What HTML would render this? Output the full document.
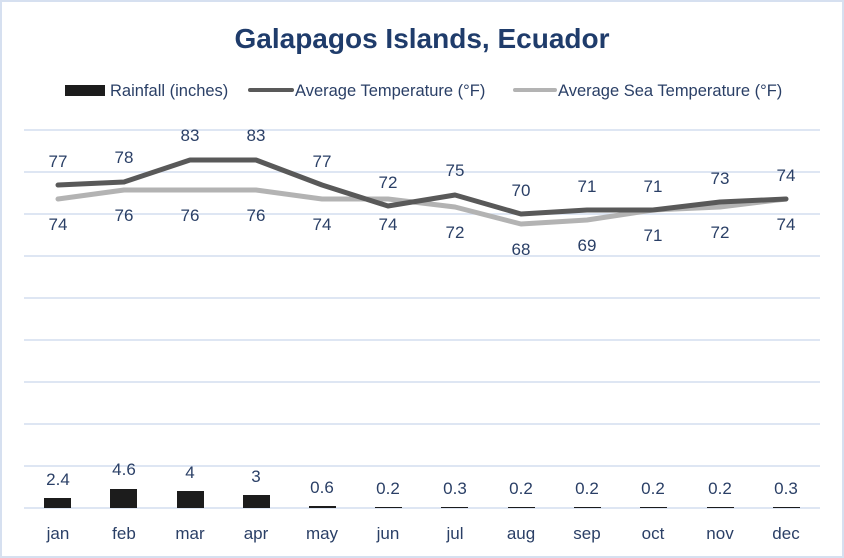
<!DOCTYPE html>
<html><head><style>body{margin:0;background:#fff}svg{display:block}</style></head><body>
<svg width="844" height="558" xmlns="http://www.w3.org/2000/svg" font-family="Liberation Sans, sans-serif">
<rect x="1" y="1" width="842" height="556" fill="#fff" stroke="#d6e0f0" stroke-width="2"/>
<text x="422" y="48" text-anchor="middle" font-size="28" font-weight="bold" fill="#1f3c6b">Galapagos Islands, Ecuador</text>
<g font-size="16.5" fill="#2a3f66">
<rect x="65" y="85" width="40" height="11" fill="#1c1c1c"/><text x="110" y="96">Rainfall (inches)</text>
<line x1="250" y1="90" x2="292" y2="90" stroke="#595959" stroke-width="4" stroke-linecap="round"/><text x="295" y="96">Average Temperature (°F)</text>
<line x1="515" y1="90" x2="555" y2="90" stroke="#b3b3b3" stroke-width="4" stroke-linecap="round"/><text x="558" y="96">Average Sea Temperature (°F)</text>
</g>
<g stroke="#d3deef" stroke-width="1.5">
<line x1="24" x2="820" y1="130" y2="130"/><line x1="24" x2="820" y1="172" y2="172"/><line x1="24" x2="820" y1="214" y2="214"/><line x1="24" x2="820" y1="256" y2="256"/><line x1="24" x2="820" y1="298" y2="298"/><line x1="24" x2="820" y1="340" y2="340"/><line x1="24" x2="820" y1="382" y2="382"/><line x1="24" x2="820" y1="424" y2="424"/><line x1="24" x2="820" y1="466" y2="466"/><line x1="24" x2="820" y1="508" y2="508"/>
</g>
<g fill="#1c1c1c">
<rect x="44" y="498" width="27" height="10"/><rect x="110" y="489" width="27" height="19"/><rect x="177" y="491" width="27" height="17"/><rect x="243" y="495" width="27" height="13"/><rect x="309" y="506" width="27" height="2"/><rect x="375" y="507" width="27" height="1"/><rect x="441" y="507" width="27" height="1"/><rect x="508" y="507" width="27" height="1"/><rect x="574" y="507" width="27" height="1"/><rect x="640" y="507" width="27" height="1"/><rect x="707" y="507" width="27" height="1"/><rect x="773" y="507" width="27" height="1"/>
</g>
<polyline fill="none" stroke="#b3b3b3" stroke-width="5" stroke-linejoin="round" stroke-linecap="round" points="58,199 124,190 190,190 256,190 322,199 388,199 455,207 521,224 587,220 653,210 720,207 786,199"/>
<polyline fill="none" stroke="#595959" stroke-width="5" stroke-linejoin="round" stroke-linecap="round" points="58,185 124,182 190,160 256,160 322,185 388,206 455,195 521,214 587,210 653,210 720,202 786,199"/>
<g font-size="17" fill="#2a3f66" text-anchor="middle">
<text x="58" y="167">77</text><text x="124" y="163">78</text><text x="190" y="141">83</text><text x="256" y="141">83</text><text x="322" y="167">77</text><text x="388" y="188">72</text><text x="455" y="176">75</text><text x="521" y="196">70</text><text x="587" y="192">71</text><text x="653" y="192">71</text><text x="720" y="184">73</text><text x="786" y="181">74</text>
<text x="58" y="230">74</text><text x="124" y="221">76</text><text x="190" y="221">76</text><text x="256" y="221">76</text><text x="322" y="230">74</text><text x="388" y="230">74</text><text x="455" y="238">72</text><text x="521" y="255">68</text><text x="587" y="251">69</text><text x="653" y="241">71</text><text x="720" y="238">72</text><text x="786" y="230">74</text>
<text x="58" y="485">2.4</text><text x="124" y="475">4.6</text><text x="190" y="478">4</text><text x="256" y="482">3</text><text x="322" y="493">0.6</text><text x="388" y="494">0.2</text><text x="455" y="494">0.3</text><text x="521" y="494">0.2</text><text x="587" y="494">0.2</text><text x="653" y="494">0.2</text><text x="720" y="494">0.2</text><text x="786" y="494">0.3</text>
<text x="58" y="539">jan</text><text x="124" y="539">feb</text><text x="190" y="539">mar</text><text x="256" y="539">apr</text><text x="322" y="539">may</text><text x="388" y="539">jun</text><text x="455" y="539">jul</text><text x="521" y="539">aug</text><text x="587" y="539">sep</text><text x="653" y="539">oct</text><text x="720" y="539">nov</text><text x="786" y="539">dec</text>
</g>
</svg>
</body></html>
